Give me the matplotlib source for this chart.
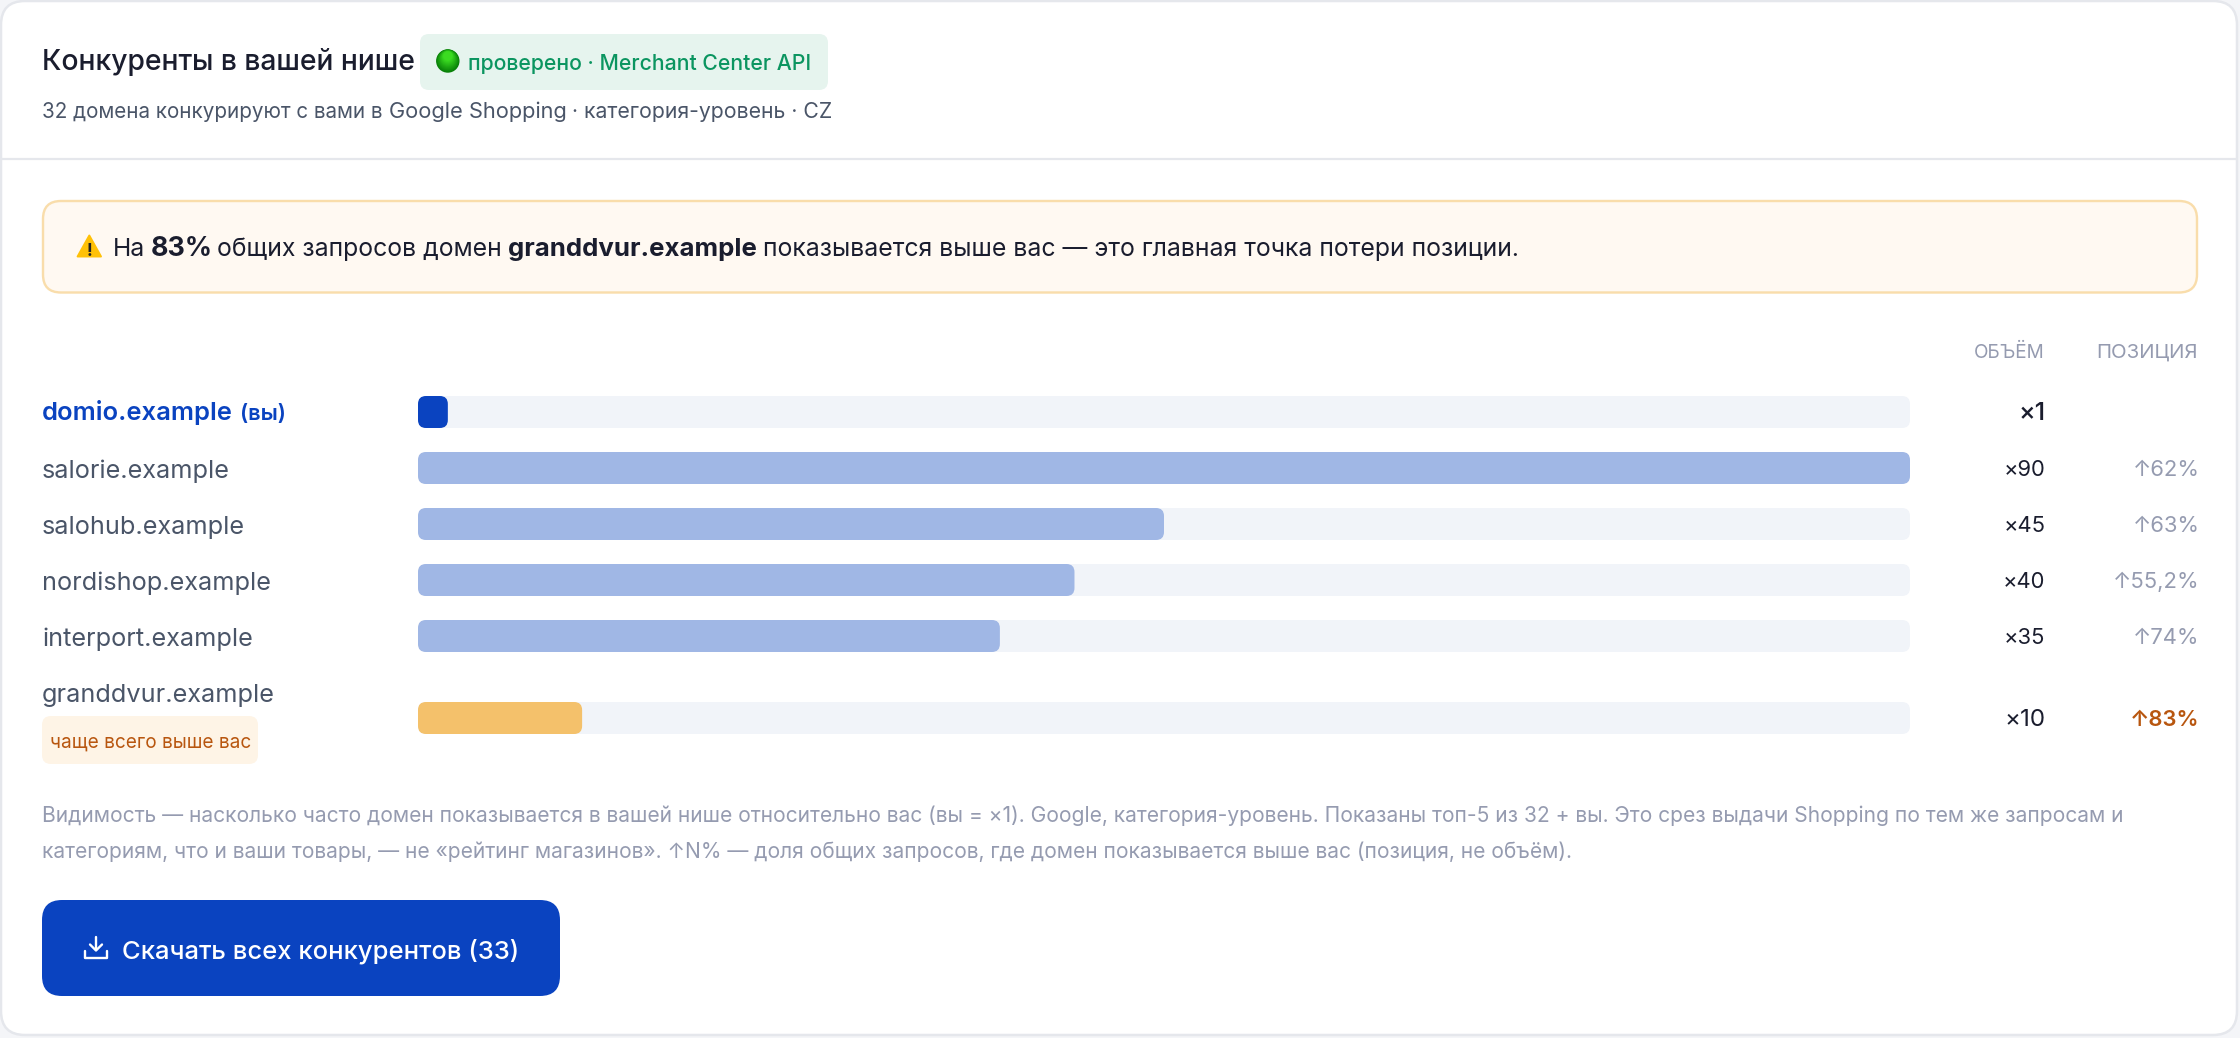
import matplotlib
matplotlib.use("Agg")
import matplotlib.pyplot as plt
from matplotlib.patches import FancyBboxPatch, Circle, Polygon

W, H = 2240, 1038
FONT = ["Inter", "DejaVu Sans"]

# ---- data -------------------------------------------------------------
domains = ["domio.example", "salorie.example", "salohub.example",
           "nordishop.example", "interport.example", "granddvur.example"]
bar_share = [2, 100, 50, 44, 39, 11]
volume_labels = ["×1", "×90", "×45", "×40", "×35", "×10"]
position_labels = ["", "↑62%", "↑63%", "↑55,2%", "↑74%", "↑83%"]

title = "Конкуренты в вашей нише"
badge = "проверено · Merchant Center API"
subtitle_runs = ["32 домена конкурируют с вами в", "Google Shopping", "· категория-уровень · CZ"]
alert_runs = ["На", "83%", "общих запросов домен", "granddvur.example",
              "показывается выше вас — это главная точка потери позиции."]
col_heads = ["ОБЪЁМ", "ПОЗИЦИЯ"]
tag = "чаще всего выше вас"
note = ["Видимость — насколько часто домен показывается в вашей нише относительно вас (вы = ×1). "
        "Google, категория-уровень. Показаны топ-5 из 32 + вы. Это срез выдачи Shopping по тем же запросам и",
        "категориям, что и ваши товары, — не «рейтинг магазинов». ↑N% — доля общих запросов, "
        "где домен показывается выше вас (позиция, не объём)."]
button = "Скачать всех конкурентов (33)"

# ---- colours ----------------------------------------------------------
INK, SLATE, MUTED = "#1A1D2E", "#4A5568", "#959BB0"
BLUE, LBLUE, AMBER, TRACK = "#0A43C0", "#A0B7E5", "#F4C16B", "#F1F4F9"
ORANGE = "#B8560F"

fig = plt.figure(figsize=(W / 100, H / 100), dpi=100, facecolor="#F4F5F8")
ui = fig.add_axes([0, 0, 1, 1])
ui.set_xlim(0, W); ui.set_ylim(H, 0); ui.axis("off")
rend = fig.canvas.get_renderer()


def box(x0, y0, x1, y1, r, fc, ec="none", lw=0, z=1):
    ui.add_patch(FancyBboxPatch((x0, y0), x1 - x0, y1 - y0, boxstyle=f"round,pad=0,rounding_size={r}",
                                fc=fc, ec=ec, lw=lw * 0.72, zorder=z))


def width_of(s, size, weight="normal"):
    t = ui.text(0, 0, s + "|", fontsize=size, fontweight=weight, family=FONT)
    a = t.get_window_extent(rend).width
    t.set_text("|")
    b = t.get_window_extent(rend).width
    t.remove()
    return a - b


def fit(s, target, weight="normal"):
    return 20 * target / width_of(s, 20, weight)


def label(x, y, s, size, color, weight="normal", ha="left", z=5):
    return ui.text(x, y, s, fontsize=size, color=color, fontweight=weight, family=FONT,
                   ha=ha, va="baseline", zorder=z)


# ---- card -------------------------------------------------------------
box(1, 1, W - 3, H - 3, 24, "white", "#E5E7EC", 2.5, z=0)
ui.plot([2, W - 3], [159, 159], color="#E5E7EC", lw=1.6, zorder=1, solid_capstyle="butt")

# ---- header -----------------------------------------------------------
label(42, 70, title, fit(title, 373, "medium"), INK, "medium")
box(420, 34, 828, 90, 9, "#E6F4EE")
for k in range(12):
    f = k / 11
    g = (0.03 + 0.20 * f, 0.50 + 0.36 * f, 0.03 + 0.10 * f)
    ui.add_patch(Circle((447.8, 61 - 5 * f), 11.7 - 7 * f, fc=g, ec="none", zorder=3 + k * 0.01))
label(468, 70, badge, fit(badge, 343, "medium"), "#0B9560", "medium")
for s, x0, x1 in zip(subtitle_runs, [42, 389, 572], [383, 567, 832]):
    label(x0, 118, s, fit(s, x1 - x0), SLATE)

# ---- alert ------------------------------------------------------------
box(43, 201, 2197, 292.5, 18, "#FFF9F2", "#F9DDAB", 2.4)
ui.add_patch(Polygon([[89.3, 235.5], [101, 256.5], [77.6, 256.5]], closed=True, fc="#FFC107", ec="#FFC107",
                     lw=1.4, joinstyle="round", zorder=3))
label(89.3, 255.5, "!", 12.5, "#222222", "bold", ha="center")
alert_x = [(113, 144), (151, 213), (217, 501.7), (508, 757), (763, 1519)]
alert_w = ["normal", "bold", "normal", "bold", "normal"]
for i, (s, (x0, x1), w) in enumerate(zip(alert_runs, alert_x, alert_w)):
    size = fit(alert_runs[2], 284.7) if i == 0 else fit(s, x1 - x0, w)
    label(x0, 256, s, size, INK, w)

# ---- column heads -----------------------------------------------------
label(2045, 358, col_heads[0], fit(col_heads[0], 71), MUTED, ha="right")
label(2198, 358, col_heads[1], fit(col_heads[1], 102), MUTED, ha="right")

# ---- bars -------------------------------------------------------------
row_centers = [412, 468, 524, 580, 636, 718]
bar_h = 32
radius = 8
ax = fig.add_axes([418 / W, 0, 1492 / W, 1])
ax.set_xlim(0, 100); ax.set_ylim(H, 0); ax.axis("off")
px_per_unit = 1492 / 100
bar_colors = [BLUE, LBLUE, LBLUE, LBLUE, LBLUE, AMBER]
for yc, v, c in zip(row_centers, bar_share, bar_colors):
    for val, col, z in ((100, TRACK, 2), (v, c, 3)):
        ax.add_patch(FancyBboxPatch((0, yc - bar_h / 2), val, bar_h,
                                    boxstyle=f"round,pad=0,rounding_size={radius / px_per_unit}",
                                    mutation_aspect=px_per_unit, fc=col, ec="none", zorder=z))

# ---- row labels -------------------------------------------------------
name_size = fit(domains[5], 232)
for i, (d, yc) in enumerate(zip(domains, row_centers)):
    if i == 0:
        label(42, 420, d, fit(d, 191, "semibold"), BLUE, "semibold")
        label(240, 420, "(вы)", fit("(вы)", 46, "semibold"), BLUE, "semibold")
    elif i == 5:
        label(42, 702, d, name_size, SLATE)
    else:
        label(42, yc + 10, d, name_size, SLATE)

box(42, 716, 258, 764, 9, "#FEF4E6")
label(50, 748, tag, fit(tag, 200), ORANGE)

# ---- right columns ----------------------------------------------------
vol_size = fit("×90", 42)
pos_size = fit("↑62%", 67)
for i, (t, p, yc) in enumerate(zip(volume_labels, position_labels, row_centers)):
    if i == 0:
        size, wt = fit(t, 27, "medium"), "medium"
    elif t == "×10":
        size, wt = fit(t, 41), "normal"
    else:
        size, wt = vol_size, "normal"
    label(2045.5, yc + 7.5, t, size, INK, wt, ha="right")
    if p:
        hot = i == 5
        label(2199.5, yc + 7.5, p, pos_size, ORANGE if hot else MUTED, "semibold" if hot else "normal", ha="right")

# ---- note -------------------------------------------------------------
note_size = fit(note[0], 2123 - 42)
label(42, 822.5, note[0], note_size, MUTED)
label(42, 858.5, note[1], note_size, MUTED)

# ---- button -----------------------------------------------------------
box(42, 900, 560, 996, 20, BLUE)
iw = dict(color="white", lw=1.7, zorder=6, solid_capstyle="round", solid_joinstyle="round")
ui.plot([85, 85, 107, 107], [951, 958, 958, 951], **iw)
ui.plot([96, 96], [937, 950], **iw)
ui.plot([90, 96, 102], [944.5, 950.5, 944.5], **iw)
label(122.5, 958, button, fit(button, 396, "medium"), "white", "medium", z=6)

fig.savefig("out.png", dpi=100, facecolor=fig.get_facecolor())
